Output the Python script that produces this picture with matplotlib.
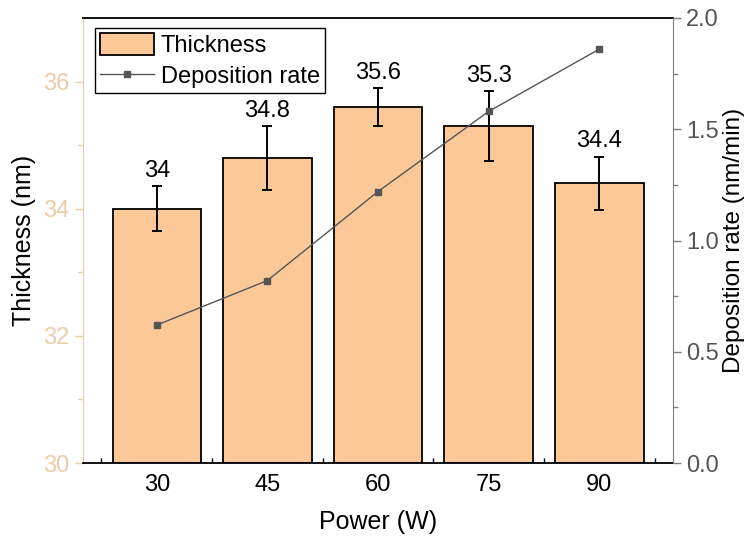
import matplotlib
matplotlib.use("Agg")
import matplotlib.pyplot as plt
import numpy as np

plt.rcParams['font.family'] = ['Liberation Sans', 'DejaVu Sans']

power = [30, 45, 60, 75, 90]
thickness = [34.0, 34.8, 35.6, 35.3, 34.4]
thickness_err = [0.35, 0.5, 0.3, 0.55, 0.42]
dep_rate = [0.62, 0.82, 1.22, 1.58, 1.86]
value_labels = ["34", "34.8", "35.6", "35.3", "34.4"]

bar_color = '#FDC897'
tan = '#E9CDA9'
gray = '#7F7F7F'

fig = plt.figure(figsize=(7.48, 5.41), dpi=100)
ax = fig.add_axes([83/748, 1-463/541, (673-83)/748, (463-18)/541])

bars = ax.bar(power, [t - 30 for t in thickness], bottom=30, width=12,
              color=bar_color, edgecolor='black', linewidth=1.3, label='Thickness', zorder=2)
ax.errorbar(power, thickness, yerr=thickness_err, fmt='none', ecolor='black',
            elinewidth=1.4, capsize=3.5, capthick=1.4, zorder=3)
for x, t, e, lab in zip(power, thickness, thickness_err, value_labels):
    ax.annotate(lab, (x, t + e), xytext=(0, 3), textcoords='offset points',
                ha='center', va='bottom', fontsize=17, color='black')

ax.set_xlim(20, 100)
ax.set_ylim(30, 37)
ax.set_xticks(power)
ax.set_xticks([22.5, 37.5, 52.5, 67.5, 82.5, 97.5], minor=True)
ax.set_yticks([30, 32, 34, 36])
ax.set_yticks([31, 33, 35], minor=True)
ax.tick_params(axis='x', which='major', direction='in', length=6, width=1, labelsize=17, pad=8, colors='black')
ax.tick_params(axis='x', which='minor', direction='in', length=3.5, width=1, colors='black')
ax.tick_params(axis='y', which='major', direction='out', length=6, width=1, labelsize=17, colors=tan, labelcolor=tan)
ax.tick_params(axis='y', which='minor', direction='out', length=3.5, width=1, colors=tan)
ax.spines['left'].set_color(tan)
ax.spines['right'].set_visible(False)
ax.spines['bottom'].set_color('black')
ax.spines['bottom'].set_linewidth(1.3)
ax.spines['top'].set_color('black')
ax.spines['top'].set_linewidth(1.3)
ax.set_xlabel('Power (W)', fontsize=18, labelpad=10)
ax.set_ylabel('Thickness (nm)', fontsize=18, labelpad=5)

ax2 = ax.twinx()
line, = ax2.plot(power, dep_rate, color='#555555', linewidth=1.0, marker='s',
                 markersize=5, markerfacecolor='#555555', markeredgecolor='#555555',
                 label='Deposition rate', zorder=4)
ax2.set_ylim(0, 2.0)
ax2.set_yticks([0.0, 0.5, 1.0, 1.5, 2.0])
ax2.set_yticks([0.25, 0.75, 1.25, 1.75], minor=True)
ax2.yaxis.set_major_formatter(matplotlib.ticker.FormatStrFormatter('%.1f'))
ax2.tick_params(axis='y', which='major', direction='out', length=6, width=1, labelsize=17, colors=gray, labelcolor='#555555')
ax2.tick_params(axis='y', which='minor', direction='out', length=3.5, width=1, colors=gray)
ax2.spines['right'].set_color(gray)
ax2.spines['left'].set_visible(False)
ax2.spines['top'].set_visible(False)
ax2.spines['bottom'].set_visible(False)
ax2.set_ylabel('Deposition rate (nm/min)', fontsize=17.5, labelpad=3)

leg = ax2.legend(handles=[bars, line], labels=['Thickness', 'Deposition rate'],
                 loc='upper left', bbox_to_anchor=(0.02, 0.978), fontsize=17,
                 frameon=True, fancybox=False, edgecolor='black', framealpha=1,
                 borderpad=0.2, labelspacing=0.3, handlelength=2.3, handleheight=1.1,
                 handletextpad=0.3, borderaxespad=0.0)
leg.get_frame().set_linewidth(1.0)

fig.savefig('out.png', dpi=100)
